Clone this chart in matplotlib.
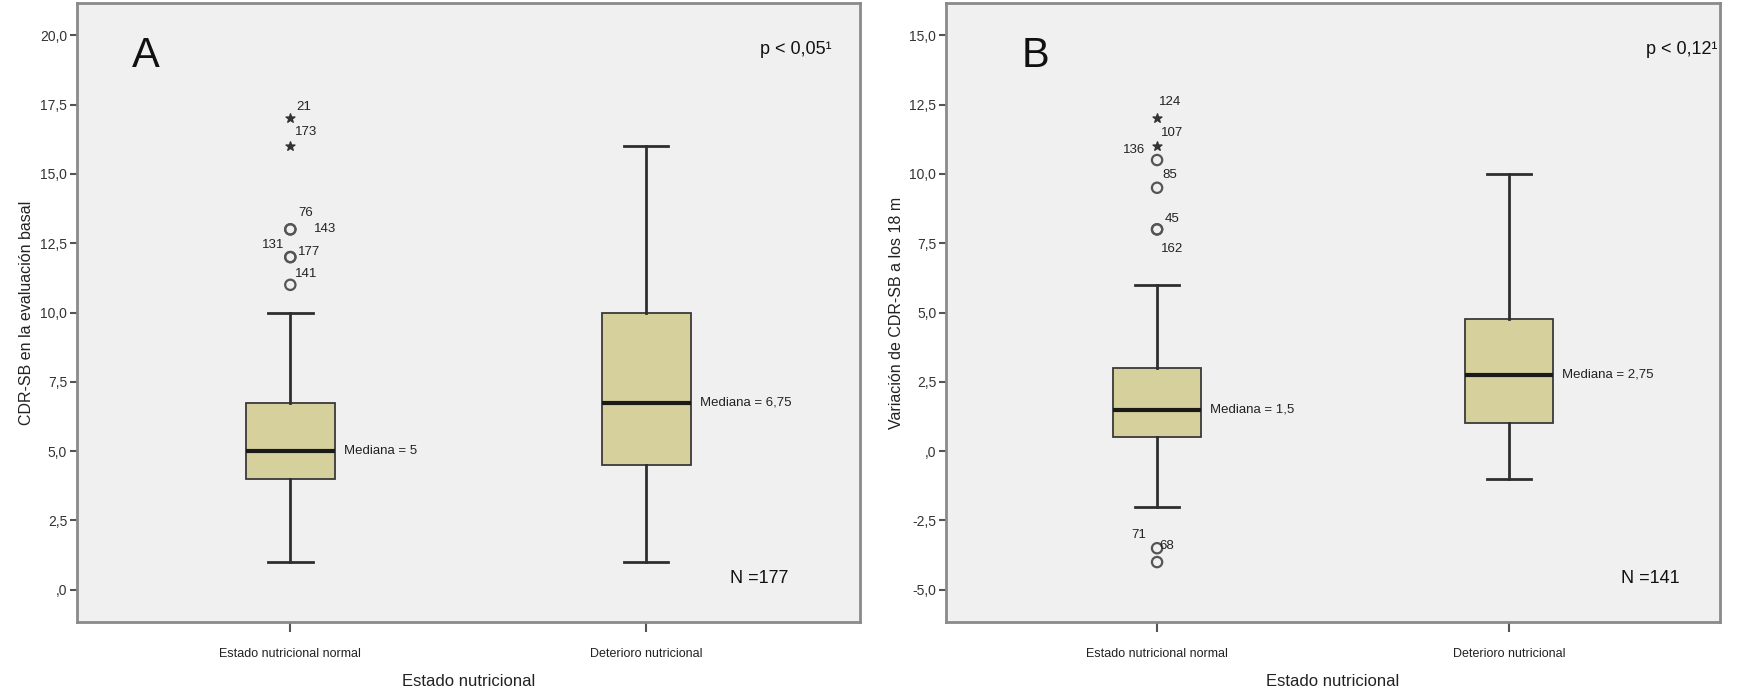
import numpy as np
import matplotlib
matplotlib.use("Agg")
import matplotlib.pyplot as plt

plt.rcParams['font.family'] = ['Liberation Sans', 'DejaVu Sans']

groups = ["Estado nutricional normal", "Deterioro nutricional"]

# panel A: CDR-SB basal
a_whislo = [1, 1]
a_q1 = [4, 4.5]
a_med = [5, 6.75]
a_q3 = [6.75, 10]
a_whishi = [10, 16]
a_circ_vals = [13, 13, 12, 12, 11]
a_circ_labs = ["76", "143", "131", "177", "141"]
a_star_vals = [17, 16]
a_star_labs = ["21", "173"]
a_med_txt = ["Mediana = 5", "Mediana = 6,75"]

# panel B: variacion CDR-SB a los 18 m
b_whislo = [-2, -1]
b_q1 = [0.5, 1]
b_med = [1.5, 2.75]
b_q3 = [3, 4.75]
b_whishi = [6, 10]
b_circ_vals = [10.5, 9.5, 8, 8, -3.5, -4]
b_circ_labs = ["136", "85", "45", "162", "71", "68"]
b_star_vals = [12, 11]
b_star_labs = ["124", "107"]
b_med_txt = ["Mediana = 1,5", "Mediana = 2,75"]

# label offsets (pixels, right / up)
offs = {"21": (13, 11), "173": (16, 14), "76": (15, 16), "143": (35, 0),
        "131": (-17, 12), "177": (19, 5), "141": (16, 11),
        "124": (13, 16), "107": (15, 13), "136": (-23, 10), "85": (13, 13),
        "45": (15, 10), "162": (15, -20), "71": (-18, 13), "68": (10, 16)}

fig = plt.figure(figsize=(17.47, 6.93), dpi=100)
axA = fig.add_axes([0.044, 0.1025, 0.448, 0.893])
axB = fig.add_axes([0.5415, 0.1025, 0.443, 0.893])


def tick_fmt(v):
    s = ("%.1f" % v).replace(".", ",")
    if s.startswith("0,"):
        s = s[1:]
    if s.startswith("-0,"):
        s = "-" + s[2:]
    return s


def panel(ax, whislo, q1, med, q3, whishi, cvals, clabs, svals, slabs,
          medtxt, ylim, yticks, letter, ptxt, ntxt, ylabel, lx, px, nx):
    stats = []
    for i in range(len(groups)):
        stats.append(dict(whislo=whislo[i], q1=q1[i], med=med[i], q3=q3[i],
                          whishi=whishi[i], fliers=[]))
    ax.bxp(stats, positions=[1, 2], widths=0.25, patch_artist=True,
           showfliers=False,
           boxprops=dict(facecolor="#d5d09c", edgecolor="#3a3a3a", linewidth=1.3),
           medianprops=dict(color="#1a1a1a", linewidth=3),
           whiskerprops=dict(color="#2e2e2e", linewidth=2),
           capprops=dict(color="#2e2e2e", linewidth=2), capwidths=0.125)
    ax.scatter([1] * len(cvals), cvals, s=55, facecolors="none",
               edgecolors="#555555", linewidths=1.6, zorder=3)
    ax.scatter([1] * len(svals), svals, s=45, marker="*", color="#333333",
               zorder=3)
    for v, l in list(zip(cvals, clabs)) + list(zip(svals, slabs)):
        ax.annotate(l, (1, v), xytext=offs[l], textcoords="offset pixels",
                    ha="center", va="center", fontsize=9.5, color="#222222")
    for i in range(len(groups)):
        ax.annotate(medtxt[i], (i + 1 + 0.125, med[i]), xytext=(9, 0),
                    textcoords="offset pixels", ha="left", va="center",
                    fontsize=9.5, color="#222222")
    ax.set_xlim(0.4, 2.6)
    ax.set_ylim(*ylim)
    ax.set_yticks(yticks)
    ax.set_yticklabels([tick_fmt(v) for v in yticks], fontsize=10, color="#333333")
    ax.set_xticks([1, 2])
    ax.set_xticklabels(groups, fontsize=9, color="#222222")
    ax.tick_params(axis="y", length=5, width=1.5, color="#555555", pad=2)
    ax.tick_params(axis="x", length=7, width=1.5, color="#555555", pad=12)
    ax.set_facecolor("#f0f0f0")
    for sp in ax.spines.values():
        sp.set_color("#8a8a8a")
        sp.set_linewidth(2)
    ax.set_xlabel("Estado nutricional", fontsize=12, color="#222222", labelpad=10)
    ax.set_ylabel(ylabel, fontsize=11.5, color="#222222", labelpad=4)
    ax.text(lx, 0.915, letter, transform=ax.transAxes, fontsize=30,
            ha="center", va="center", color="#111111")
    ax.text(px, 0.925, ptxt, transform=ax.transAxes, fontsize=13,
            ha="center", va="center", color="#111111")
    ax.text(nx, 0.07, ntxt, transform=ax.transAxes, fontsize=13,
            ha="center", va="center", color="#111111")


panel(axA, a_whislo, a_q1, a_med, a_q3, a_whishi, a_circ_vals, a_circ_labs,
      a_star_vals, a_star_labs, a_med_txt, (-1.16, 21.16),
      np.arange(0, 20.1, 2.5), "A", "p < 0,05\u00b9", "N =177",
      "CDR-SB en la evaluación basal", 0.088, 0.918, 0.872)
panel(axB, b_whislo, b_q1, b_med, b_q3, b_whishi, b_circ_vals, b_circ_labs,
      b_star_vals, b_star_labs, b_med_txt, (-6.16, 16.16),
      np.arange(-5, 15.1, 2.5), "B", "p < 0,12\u00b9", "N =141",
      "Variación de CDR-SB a los 18 m", 0.115, 0.95, 0.91)

fig.savefig("out.png", dpi=100, facecolor="white")
